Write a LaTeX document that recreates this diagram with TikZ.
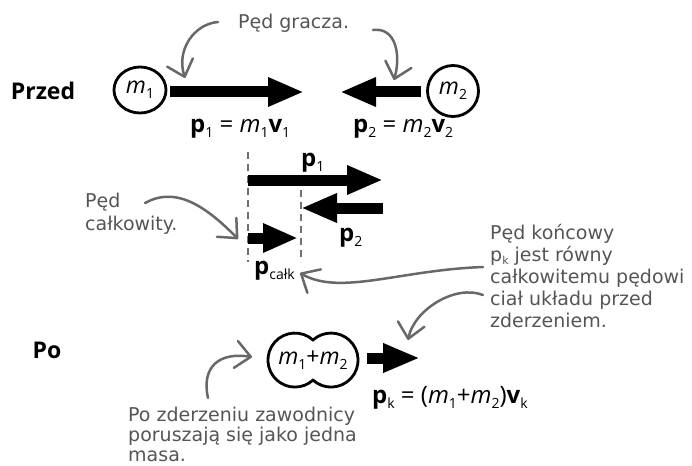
\documentclass[tikz,border=0pt]{standalone}
\usepackage{fontspec}
\setmainfont{Open Sans}
\newfontfamily\hand{DejaVu Sans}
\usetikzlibrary{arrows.meta,shapes.geometric}
\definecolor{gr}{HTML}{686868}
\definecolor{dgr}{HTML}{707070}
\definecolor{tgr}{HTML}{555555}
\newcommand{\sbx}[1]{\raisebox{-5pt}{\fontsize{14}{14}\selectfont #1}}
\newcommand{\bp}{{\bfseries p}}
\newcommand{\bv}{{\bfseries v}}
\newcommand{\im}{{\itshape m}}
\newcommand{\eqf}{\fontsize{24}{24}\selectfont}
\begin{document}
\begin{tikzpicture}[x=1pt,y=-1pt,
  big/.style={line width=11pt,-{Triangle[length=36pt,width=27pt]}},
  gar/.style={draw=gr,line width=2.5pt,line cap=round,-{Straight Barb[length=15pt,width=27pt,round]}},
  dsh/.style={draw=dgr,line width=2.5pt,dash pattern=on 7pt off 5pt},
  lbl/.style={anchor=base west,inner sep=0pt,font=\eqf},
  hw/.style={anchor=base west,inner sep=0pt,text=tgr,align=left},
  ttl/.style={font=\fontsize{23}{23}\selectfont\bfseries,inner sep=0pt}]
\useasboundingbox (0,0) rectangle (692,465);

% titles
\node[ttl] (przed) at (43,91) {Przed};
\node[ttl] (po) at (47,350) {Po};

% before
\node[draw,line width=2.8pt,ellipse,minimum width=52pt,minimum height=46pt,inner sep=0pt,font=\fontsize{23}{23}\selectfont] (m1) at (140,90) {\im\sbx{1}};
\node[draw,line width=2.8pt,circle,minimum size=51pt,inner sep=0pt,font=\fontsize{23}{23}\selectfont] (m2) at (453,91) {\im\sbx{2}};
\coordinate (a1e) at (304,92);
\coordinate (a2e) at (340,92);
\draw[big] ([xshift=3pt,yshift=-2pt]m1.east) -- (a1e);
\draw[big] ([xshift=-5pt,yshift=-1pt]m2.west) -- (a2e);
\node[lbl] (e1) at (190,133) {\bp\sbx{1} = \im\sbx{1}\bv\sbx{1}};
\node[lbl] (e2) at (353,133) {\bp\sbx{2} = \im\sbx{2}\bv\sbx{2}};

% annotation: Pęd gracza
\node[hw,font=\hand\fontsize{19}{22}\selectfont] (tg) at (238,29) {Pęd gracza.};
\coordinate (g1s) at (218,22);
\coordinate (g1e) at (185,78);
\coordinate (g2s) at (373,30);
\coordinate (g2e) at (394,80);
\draw[gar] (g1s) .. controls (194,24) and (176,50) .. (g1e);
\draw[gar] (g2s) .. controls (396,27) and (401,55) .. (g2e);

% vector sum
\coordinate (d1t) at (248,152);
\coordinate (d1b) at (248,262);
\coordinate (d2t) at (301,190);
\coordinate (d2b) at (301,262);
\draw[dsh] (d1t) -- (d1b);
\draw[dsh] (d2t) -- (d2b);
\coordinate (p1s) at (248,180);
\coordinate (p1e) at (383,180);
\coordinate (p2s) at (383,208);
\coordinate (p2e) at (301,208);
\coordinate (pts) at (248,238);
\coordinate (pte) at (298,238);
\draw[big] (p1s) -- (p1e);
\draw[big] (p2s) -- (p2e);
\draw[big,-{Triangle[length=35pt,width=27pt]}] (pts) -- (pte);
\node[lbl] (lp1) at (301,166) {\bp\sbx{1}};
\node[lbl] (lp2) at (339,241) {\bp\sbx{2}};
\node[lbl] (lpt) at (254,274) {\bp\raisebox{-5pt}{\fontsize{14}{14}\selectfont całk}};

% annotation: Pęd całkowity (anchor = last line baseline)
\node[hw,font=\hand\fontsize{19}{23}\selectfont] (tc) at (85,230) {Pęd\\całkowity.};
\coordinate (g3s) at (145,203);
\coordinate (g3e) at (238,239);
\draw[gar] (g3s) .. controls (172,188) and (200,200) .. (g3e);

% annotation: right block
\node[hw,font=\hand\fontsize{19}{22}\selectfont] (tr) at (490,327) {Pęd końcowy\\p\raisebox{-3pt}{\fontsize{11}{11}\selectfont k} jest równy\\całkowitemu pędowi\\ciał układu przed\\zderzeniem.};
\coordinate (g4s) at (483,267);
\coordinate (g4e) at (300,273);
\coordinate (g5s) at (483,295);
\coordinate (g5e) at (408,340);
\draw[gar] (g4s) .. controls (400,270) and (340,296) .. (g4e);
\draw[gar] (g5s) .. controls (455,284) and (414,310) .. (g5e);

% after
\node[inner sep=0pt,font=\fontsize{23}{23}\selectfont] (mm) at (313,360) {\im\sbx{1}+\im\sbx{2}};
\draw[line width=2.8pt] (313,340) arc[start angle=48,end angle=312,radius=27pt]
  arc[start angle=228,end angle=492,radius=27pt] -- cycle;
\coordinate (pks) at (367,358);
\coordinate (pke) at (420,358);
\draw[big,-{Triangle[length=37pt,width=27pt]}] (pks) -- (pke);
\node[lbl] (ek) at (372,403) {\bp\sbx{k} = (\im\sbx{1}+\im\sbx{2})\bv\sbx{k}};

% annotation: bottom (anchor = last line baseline)
\node[hw,font=\hand\fontsize{19}{20}\selectfont] (tb) at (128,461) {Po zderzeniu zawodnicy\\poruszają się jako jedna\\masa.};
\coordinate (g6s) at (208,398);
\coordinate (g6e) at (252,357);
\draw[gar] (g6s) .. controls (201,366) and (220,352) .. (g6e);
\end{tikzpicture}
\end{document}
